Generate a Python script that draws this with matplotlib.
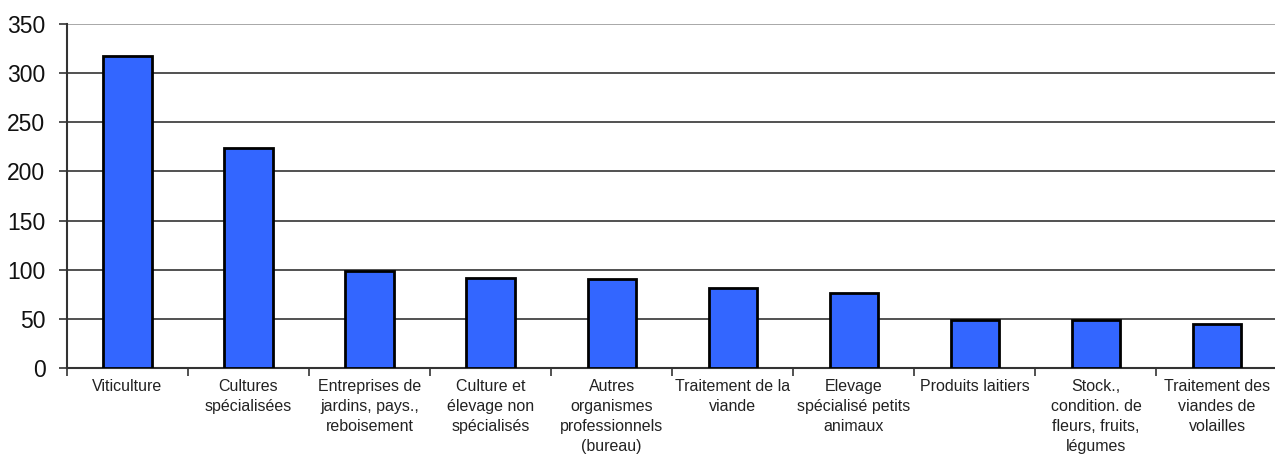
import matplotlib
matplotlib.use("Agg")
import matplotlib.pyplot as plt
import numpy as np

plt.rcParams['font.family'] = ['Liberation Sans', 'DejaVu Sans']

categories = [
    "Viticulture",
    "Cultures\nspécialisées",
    "Entreprises de\njardins, pays.,\nreboisement",
    "Culture et\nélevage non\nspécialisés",
    "Autres\norganismes\nprofessionnels\n(bureau)",
    "Traitement de la\nviande",
    "Elevage\nspécialisé petits\nanimaux",
    "Produits laitiers",
    "Stock.,\ncondition. de\nfleurs, fruits,\nlégumes",
    "Traitement des\nviandes de\nvolailles",
]
values = [318, 224, 99, 92, 91, 81, 76, 49, 49, 45]
yticks = [0, 50, 100, 150, 200, 250, 300, 350]

fig = plt.figure(figsize=(12.75, 4.54), dpi=100)
ax = fig.add_axes([0.0525, 0.1894, 0.9495, 0.7576])

x = np.arange(len(categories))
ax.bar(x, values, width=0.4, color="#3366ff", edgecolor="black", linewidth=2, zorder=3)

ax.set_xlim(-0.5, len(categories) - 0.5)
ax.set_ylim(0, 350)
ax.set_yticks(yticks)
ax.tick_params(axis="y", labelsize=16.5, length=6, width=1.2, color="#333333", pad=9.5, labelcolor="#111111")

# category separators as ticks, labels centered under bars
ax.set_xticks(np.arange(len(categories) + 1) - 0.5)
ax.set_xticklabels([])
ax.set_xticks(x, minor=True)
ax.set_xticklabels(categories, minor=True, fontsize=11.5, color="#222222", va="top", linespacing=1.4)
ax.tick_params(axis="x", which="major", length=6, width=1.2, color="#333333", direction="out")
ax.tick_params(axis="x", which="minor", length=0, pad=8)

for y in yticks[1:]:
    col = "#999999" if y == 350 else "#333333"
    ax.axhline(y, color=col, linewidth=1.2, zorder=1)

for s in ["top", "right"]:
    ax.spines[s].set_visible(False)
for s in ["left", "bottom"]:
    ax.spines[s].set_color("#333333")
    ax.spines[s].set_linewidth(1.5)

fig.savefig("out.png", dpi=100)
